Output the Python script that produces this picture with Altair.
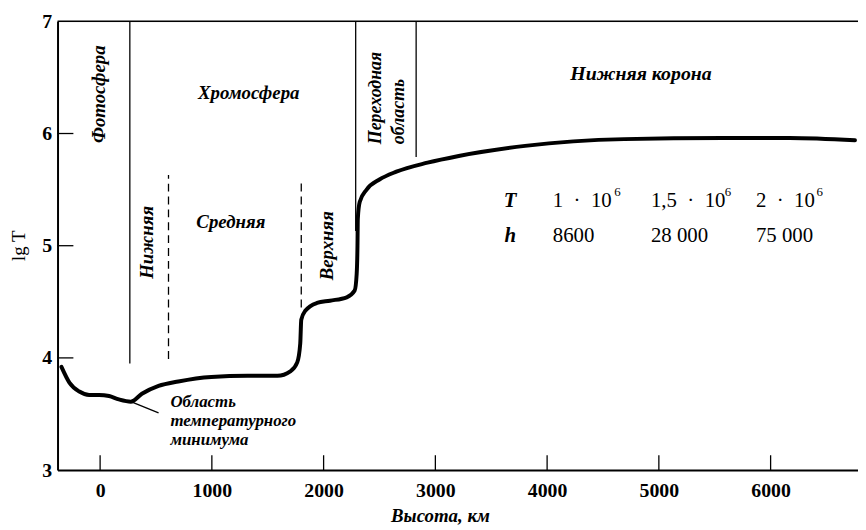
import altair as alt
import pandas as pd

# ---- data ----
height_km = [-346, -275, -186, -98, -9, 80, 168, 275, 374, 523, 700, 995, 1320, 1587,
             1702, 1764, 1791, 1800, 1836, 1941, 2057, 2207, 2278, 2296, 2303, 2306,
             2323, 2385, 2500, 2651, 2930, 3209, 3803, 4690, 5576, 6170, 6755]
lg_T = [3.92, 3.78, 3.70, 3.67, 3.67, 3.66, 3.63, 3.61, 3.68, 3.75, 3.79, 3.83, 3.84, 3.84,
        3.88, 3.96, 4.13, 4.34, 4.42, 4.49, 4.51, 4.54, 4.60, 4.75, 5.00, 5.24,
        5.39, 5.50, 5.59, 5.66, 5.74, 5.80, 5.89, 5.95, 5.96, 5.96, 5.94]

# region boundaries
solid_x = [266, 2287, 2828]
solid_bottom = [3.95, 5.13, 5.79]
solid_top = [7, 7, 7]
dashed_x = [612, 1800]
dashed_bottom = [3.99, 4.45]
dashed_top = [5.63, 5.59]

# pointer to temperature minimum
pointer_x = [275]
pointer_x2 = [523]
pointer_y = [3.61]
pointer_y2 = [3.51]

x_tick_values = [0, 1000, 2000, 3000, 4000, 5000, 6000]
y_tick_values = [3, 4, 5, 6, 7]
y_inner_ticks = [4, 5, 6]

# labels
rot_center_text = ["Фотосфера", "Нижняя", "Верхняя"]
rot_center_x = [-9, 417, 2030]
rot_center_y = [6.35, 5.03, 5.0]

rot_left_text = ["Переходная", "область"]
rot_left_x = [2473, 2677]
rot_left_y = [5.905, 5.905]

hor_text = ["Хромосфера", "Средняя", "Нижняя корона"]
hor_x = [1330, 1170, 4840]
hor_y = [6.36, 5.21, 6.53]

min_text = ["Область", "температурного", "минимума"]
min_x = [629, 629, 629]
min_y = [3.61, 3.44, 3.272]

tab_sym = ["T", "h"]
tab_sym_x = [3670, 3670]
tab_sym_y = [5.40, 5.088]

EN = "\u2002"
tab_T_text = ["1" + EN + "·" + EN + "10",
              "1,5" + EN + "·" + EN + "10",
              "2" + EN + "·" + EN + "10"]
tab_T_x = [4051, 4929, 5869]
tab_T_y = [5.40, 5.40, 5.40]
tab_sup_text = ["6", "6", "6"]
tab_sup_x = [4600, 5590, 6410]
tab_sup_y = [5.477, 5.477, 5.477]
tab_h_text = ["8600", "28 000", "75 000"]
tab_h_x = [4051, 4929, 5869]
tab_h_y = [5.088, 5.088, 5.088]

FONT = "Liberation Serif"
W, H = 808, 453
XD = [-381, 6782]
YD = [3, 7]

xs = alt.Scale(domain=XD, nice=False, zero=False)
ys = alt.Scale(domain=YD, nice=False, zero=False)

xaxis = alt.Axis(values=x_tick_values, format="d", ticks=False, grid=False,
                 domainColor="black", domainWidth=2, labelFont=FONT, labelFontSize=20,
                 labelFontWeight="bold", labelColor="black", labelPadding=11,
                 title="Высота, км", titleFont=FONT, titleFontSize=19,
                 titleFontStyle="italic", titleFontWeight="bold", titleColor="black",
                 titleX=386, titleY=46, titleBaseline="middle", titleAnchor="start",
                 titleAlign="center")
yaxis = alt.Axis(values=y_tick_values, format="d", ticks=False, grid=False,
                 domainColor="black", domainWidth=2, labelFont=FONT, labelFontSize=20,
                 labelFontWeight="bold", labelColor="black", labelPadding=6,
                 title="lg T", titleFont=FONT, titleFontSize=19, titleFontWeight="normal",
                 titleColor="black", titleX=-39, titleY=226, titleAlign="center",
                 titleBaseline="middle", titleAnchor="start")

curve_df = pd.DataFrame({"h": height_km, "t": lg_T})
curve = alt.Chart(curve_df).mark_line(color="black", strokeWidth=4, interpolate="monotone",
                                      strokeCap="round").encode(
    x=alt.X("h:Q", scale=xs, axis=xaxis),
    y=alt.Y("t:Q", scale=ys, axis=yaxis),
)

solid_df = pd.DataFrame({"x": solid_x, "y": solid_bottom, "y2": solid_top})
solid = alt.Chart(solid_df).mark_rule(color="black", strokeWidth=1.3).encode(
    x=alt.X("x:Q", scale=xs), y=alt.Y("y:Q", scale=ys), y2="y2:Q")

dashed_df = pd.DataFrame({"x": dashed_x, "y": dashed_bottom, "y2": dashed_top})
dashed = alt.Chart(dashed_df).mark_rule(color="black", strokeWidth=1.3,
                                        strokeDash=[8, 5]).encode(
    x=alt.X("x:Q", scale=xs), y=alt.Y("y:Q", scale=ys), y2="y2:Q")

ptr_df = pd.DataFrame({"x": pointer_x, "x2": pointer_x2, "y": pointer_y, "y2": pointer_y2})
pointer = alt.Chart(ptr_df).mark_rule(color="black", strokeWidth=1.3).encode(
    x=alt.X("x:Q", scale=xs), x2="x2:Q", y=alt.Y("y:Q", scale=ys), y2="y2:Q")

top_df = pd.DataFrame({"y": [YD[1]]})
top_line = alt.Chart(top_df).mark_rule(color="black", strokeWidth=1.6).encode(
    y=alt.Y("y:Q", scale=ys))

xt_df = pd.DataFrame({"x": x_tick_values})
xticks = alt.Chart(xt_df).mark_rule(color="black", strokeWidth=1.3).encode(
    x=alt.X("x:Q", scale=xs), y=alt.value(H - 15), y2=alt.value(H))

yt_df = pd.DataFrame({"y": y_inner_ticks})
yticks = alt.Chart(yt_df).mark_rule(color="black", strokeWidth=1.3).encode(
    y=alt.Y("y:Q", scale=ys), x=alt.value(0), x2=alt.value(16))


def text_layer(texts, xv, yv, size, angle=0, align="center", style="italic",
               weight="bold", baseline="middle"):
    df = pd.DataFrame({"label": texts, "x": xv, "y": yv})
    return alt.Chart(df).mark_text(font=FONT, fontSize=size, fontStyle=style,
                                   fontWeight=weight, angle=angle, align=align,
                                   baseline=baseline, color="black").encode(
        x=alt.X("x:Q", scale=xs), y=alt.Y("y:Q", scale=ys), text="label:N")


t1 = text_layer(rot_center_text, rot_center_x, rot_center_y, 19, angle=270)
t2 = text_layer(rot_left_text, rot_left_x, rot_left_y, 18, angle=270, align="left")
t3a = text_layer(hor_text[:2], hor_x[:2], hor_y[:2], 19)
t3b = text_layer(hor_text[2:], hor_x[2:], hor_y[2:], 20)
t4 = text_layer(min_text, min_x, min_y, 17, align="left")
t5 = text_layer(tab_sym, tab_sym_x, tab_sym_y, 21)
t6 = text_layer(tab_T_text, tab_T_x, tab_T_y, 21, align="left", style="normal",
                weight="normal")
t7 = text_layer(tab_sup_text, tab_sup_x, tab_sup_y, 13, align="left", style="normal",
                weight="normal")
t8 = text_layer(tab_h_text, tab_h_x, tab_h_y, 21, align="left", style="normal",
                weight="normal")

chart = alt.layer(curve, solid, dashed, pointer, top_line, xticks, yticks,
                  t1, t2, t3a, t3b, t4, t5, t6, t7, t8).properties(
    width=W, height=H,
    autosize=alt.AutoSizeParams(type="none"),
    padding={"left": 50, "top": 11, "right": 0, "bottom": 55},
).configure_view(stroke=None).configure(background="white")

chart.save("out.html", embed_options={"renderer": "svg", "actions": False})
